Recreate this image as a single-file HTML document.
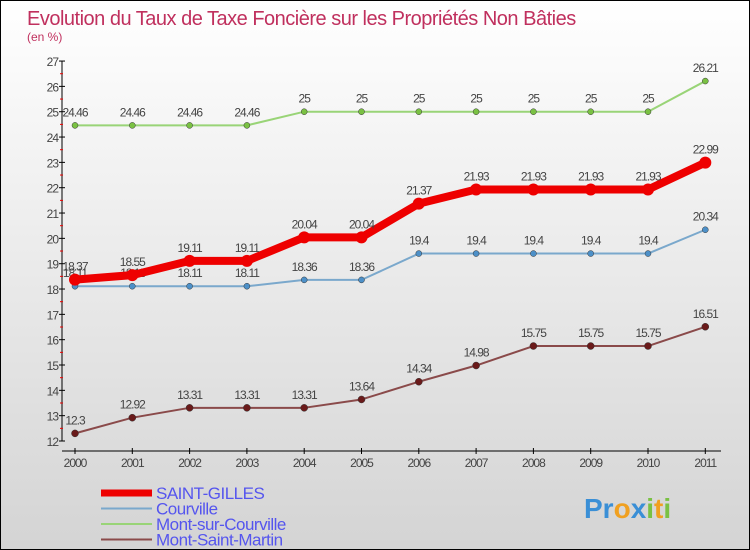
<!DOCTYPE html>
<html><head><meta charset="utf-8"><style>
body{margin:0}
#c{width:750px;height:550px;position:relative;box-sizing:border-box;border:1px solid #000;background:linear-gradient(#fff,#d4d4d4);font-family:"Liberation Sans",sans-serif;overflow:hidden}
</style></head><body>
<div id="c">
<svg id="s" width="748" height="548" style="position:absolute;left:0;top:0">
<text x="26" y="24" font-size="20" letter-spacing="-0.5" fill="#c0305e">Evolution du Taux de Taxe Foncière sur les Propriétés Non Bâties</text>
<text x="26" y="40" font-size="12" fill="#c0305e">(en %)</text>
<g id="ax"></g><g id="ser"></g><g id="leg"></g>
<text x="583" y="517" font-size="28" font-weight="bold"><tspan fill="#3a8fd6">Pr</tspan><tspan fill="#f0a020">o</tspan><tspan fill="#3a8fd6">x</tspan><tspan fill="#7ac143">i</tspan><tspan fill="#f0a020">t</tspan><tspan fill="#7ac143">i</tspan></text>
</svg>
</div>
<script>
const years=["2000","2001","2002","2003","2004","2005","2006","2007","2008","2009","2010","2011"];
const saintGilles=[18.37,18.55,19.11,19.11,20.04,20.04,21.37,21.93,21.93,21.93,21.93,22.99];
const courville=[18.11,18.11,18.11,18.11,18.36,18.36,19.4,19.4,19.4,19.4,19.4,20.34];
const montSurCourville=[24.46,24.46,24.46,24.46,25,25,25,25,25,25,25,26.21];
const montSaintMartin=[12.3,12.92,13.31,13.31,13.31,13.64,14.34,14.98,15.75,15.75,15.75,16.51];
const yTicks=[12,13,14,15,16,17,18,19,20,21,22,23,24,25,26,27];
const NS="http://www.w3.org/2000/svg";
const x=i=>74+i*57.3, y=v=>440-(v-12)*25.33;
function mk(t,a,p){const e=document.createElementNS(NS,t);for(const k in a)e.setAttribute(k,a[k]);p.appendChild(e);return e;}
const ax=document.getElementById('ax'),ser=document.getElementById('ser'),leg=document.getElementById('leg');
let e=mk('line',{x1:61,y1:y(27),x2:61,y2:y(12),stroke:'#000'},ax);

e=mk('line',{x1:61,y1:450,x2:720,y2:450,stroke:'#000'},ax);

yTicks.forEach(v=>{
 mk('line',{x1:58,y1:y(v),x2:64,y2:y(v),stroke:'#000'},ax);
 if(v<27)mk('line',{x1:59,y1:y(v+0.5),x2:62,y2:y(v+0.5),stroke:'#e00'},ax);
 const t=mk('text',{x:57,y:y(v)+5,'text-anchor':'end','font-size':12,fill:'#444','letter-spacing':'-1'},ax);t.textContent=v;
 
});
years.forEach((yr,i)=>{
 mk('line',{x1:x(i),y1:447,x2:x(i),y2:453,stroke:'#000'},ax);
 const t=mk('text',{x:x(i),y:466,'text-anchor':'middle','font-size':12,fill:'#444','letter-spacing':'-1'},ax);t.textContent=yr;
 
});
const series=[
 {n:'Mont-sur-Courville',d:montSurCourville,c:'#99d477',dc:'#7ac143',w:2,r:3,name:'mont-sur-courville'},
 {n:'Courville',d:courville,c:'#7aa8cc',dc:'#4d90c8',w:2,r:3,name:'courville'},
 {n:'Mont-Saint-Martin',d:montSaintMartin,c:'#8a4a4a',dc:'#6a1a1a',w:2,r:3.5,name:'mont-saint-martin'},
 {n:'SAINT-GILLES',d:saintGilles,c:'#ee0000',dc:'#ee0000',w:8,r:6,name:'saint-gilles'}];
series.forEach(s=>{
 const g=mk('g',{},ser);
 
 const p=mk('polyline',{points:s.d.map((v,i)=>x(i)+','+y(v)).join(' '),fill:'none',stroke:s.c,'stroke-width':s.w,'stroke-linejoin':'round'},g);
 
 s.d.forEach((v,i)=>{
  const c=mk('circle',{cx:x(i),cy:y(v),r:s.r,fill:s.dc,stroke:'#333','stroke-width':s.w>2?0:0.5},g);
  
  const t=mk('text',{x:x(i),y:y(v)-9,'text-anchor':'middle','font-size':12,fill:'#444','letter-spacing':'-1'},g);
  t.textContent=v;
  
 });
});
const legItems=[['SAINT-GILLES','#ee0000',7],['Courville','#7aa8cc',2],['Mont-sur-Courville','#99d477',2],['Mont-Saint-Martin','#8a4a4a',2]];
legItems.forEach((l,i)=>{
 const yy=492+i*15.5;
 const g=mk('g',{},leg);
 
 mk('line',{x1:100,y1:yy,x2:151,y2:yy,stroke:l[1],'stroke-width':l[2]},g);
 const t=mk('text',{x:155,y:yy+6,'font-size':17,fill:'#5555ee','letter-spacing':'-0.5'},g);t.textContent=l[0];
});
</script>
</body></html>
